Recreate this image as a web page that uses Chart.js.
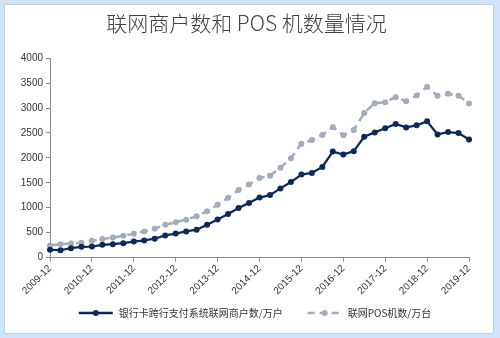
<!DOCTYPE html>
<html>
<head>
<meta charset="utf-8">
<script src="https://cdn.jsdelivr.net/npm/chart.js@4"></script>
<style>
  html, body { margin: 0; padding: 0; }
  body { width: 500px; height: 338px; background: #cfe4f6; position: relative; overflow: hidden; }
  #frame { position: absolute; left: 4px; top: 4px; width: 488px; height: 328px; background: #fff; border: 1px solid #b3d3ee; }
  #wrap { position: absolute; left: 0; top: 0; width: 500px; height: 338px; }
</style>
</head>
<body>
<div id="frame"></div>
<div id="wrap"><canvas id="LineChart" width="500" height="338"></canvas></div>
<script>
// quarterly, 2009-12 .. 2019-12
const quarters = [
  "2009-12", "2010-03", "2010-06", "2010-09", "2010-12",
  "2011-03", "2011-06", "2011-09", "2011-12",
  "2012-03", "2012-06", "2012-09", "2012-12",
  "2013-03", "2013-06", "2013-09", "2013-12",
  "2014-03", "2014-06", "2014-09", "2014-12",
  "2015-03", "2015-06", "2015-09", "2015-12",
  "2016-03", "2016-06", "2016-09", "2016-12",
  "2017-03", "2017-06", "2017-09", "2017-12",
  "2018-03", "2018-06", "2018-09", "2018-12",
  "2019-03", "2019-06", "2019-09", "2019-12",
];

// 银行卡跨行支付系统联网商户数/万户
const merchants = [
  156, 147, 188, 216, 220,
  256, 269, 289, 320,
  343, 378, 444, 481,
  525, 559, 660, 763,
  875, 996, 1097, 1203,
  1253, 1388, 1515, 1665,
  1697, 1818, 2127, 2067,
  2135, 2424, 2511, 2593,
  2681, 2612, 2653, 2733,
  2471, 2519, 2499, 2370,
];

// 联网POS机数/万台
const posTerminals = [
  242, 269, 283, 297, 335,
  370, 404, 438, 480,
  525, 579, 660, 710,
  761, 828, 929, 1060,
  1198, 1355, 1468, 1596,
  1643, 1804, 1994, 2285,
  2357, 2459, 2620, 2455,
  2560, 2903, 3097, 3118,
  3218, 3137, 3253, 3425,
  3246, 3287, 3246, 3092,
];

const yTicks = [0, 500, 1000, 1500, 2000, 2500, 3000, 3500, 4000];

const navy = "#0c2a55";
const grey = "#a4acba";

function legendIcon(color, dash) {
  const c = document.createElement("canvas");
  c.width = 36;
  c.height = 10;
  const g = c.getContext("2d");
  g.strokeStyle = color;
  g.lineWidth = 2.5;
  g.setLineDash(dash);
  g.beginPath();
  g.moveTo(1, 5);
  g.lineTo(35, 5);
  g.stroke();
  g.fillStyle = color;
  g.beginPath();
  g.arc(18, 5, 3, 0, Math.PI * 2);
  g.fill();
  return c;
}

// nudge title and legend, the plot area stays where it is
const shiftBoxes = {
  id: "shiftBoxes",
  afterLayout(chart) {
    chart.titleBlock.left += 12;
    chart.titleBlock.right += 12;
    chart.legend.left += 20;
    chart.legend.right += 20;
    chart.legend.top -= 14;
  },
};

document.addEventListener("DOMContentLoaded", function () {
  const ctx = document.getElementById("LineChart").getContext("2d");

  const chartData = {
    labels: quarters,
    datasets: [
      {
        label: "银行卡跨行支付系统联网商户数/万户",
        data: merchants,
        borderColor: navy,
        backgroundColor: navy,
        borderWidth: 2.25,
        pointRadius: 3,
        pointBackgroundColor: navy,
        pointBorderWidth: 0,
        tension: 0,
      },
      {
        label: "联网POS机数/万台",
        data: posTerminals,
        borderColor: grey,
        backgroundColor: grey,
        borderWidth: 2.5,
        borderDash: [8, 5],
        pointRadius: 3,
        pointBackgroundColor: grey,
        pointBorderWidth: 0,
        tension: 0,
      },
    ],
  };

  const icons = [legendIcon(navy, []), legendIcon(grey, [7, 5])];

  const chartOptions = {
    responsive: false,
    animation: false,
    layout: { padding: { left: 0, right: 31, top: 10, bottom: 8 } },
    plugins: {
      title: {
        display: true,
        text: "联网商户数和 POS 机数量情况",
        color: "#404040",
        font: { family: "'Noto Sans CJK SC', sans-serif", size: 21, weight: 300 },
        padding: { top: 0, bottom: 23 },
      },
      legend: {
        position: "bottom",
        maxHeight: 32,
        labels: {
          usePointStyle: true,
          pointStyleWidth: 36,
          color: "#333",
          font: { family: "'Noto Sans CJK SC', sans-serif", size: 10 },
          padding: 24,
          generateLabels: function (chart) {
            return chart.data.datasets.map((ds, i) => ({
              text: ds.label,
              pointStyle: icons[i],
              fillStyle: ds.borderColor,
              strokeStyle: ds.borderColor,
              lineWidth: 0,
              fontColor: "#333",
              datasetIndex: i,
            }));
          },
        },
      },
      tooltip: { enabled: false },
    },
    scales: {
      x: {
        offset: false,
        border: { color: "#8c8c8c", width: 1 },
        grid: {
          drawOnChartArea: false,
          tickLength: 4,
          tickColor: (c) => (c.index % 4 === 0 ? "#8c8c8c" : "rgba(0,0,0,0)"),
        },
        ticks: {
          autoSkip: false,
          minRotation: 45,
          maxRotation: 45,
          color: "#333",
          padding: 1,
          font: { family: "'Liberation Sans', Arial, sans-serif", size: 10 },
          callback: function (v, i) {
            return i % 4 === 0 ? quarters[i] : "";
          },
        },
      },
      y: {
        min: 0,
        max: 4000,
        border: { color: "#8c8c8c", width: 1 },
        grid: { drawOnChartArea: false, tickLength: 4, tickColor: "#8c8c8c" },
        afterFit: function (scale) {
          scale.width = 50;
        },
        afterBuildTicks: function (scale) {
          scale.ticks = yTicks.map((v) => ({ value: v }));
        },
        ticks: {
          color: "#333",
          padding: 3,
          font: { family: "'Liberation Sans', Arial, sans-serif", size: 10 },
          callback: (v) => String(v),
        },
      },
    },
  };

  new Chart(ctx, {
    type: "line",
    data: chartData,
    options: chartOptions,
    plugins: [shiftBoxes],
  });
});
</script>
</body>
</html>
